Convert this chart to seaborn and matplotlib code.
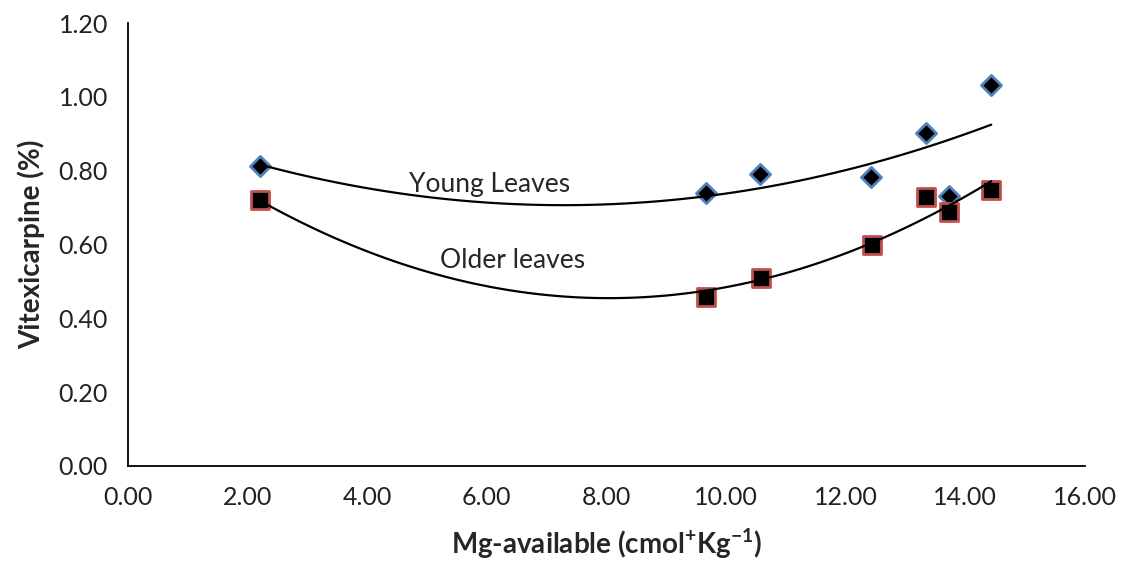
import numpy as np
import pandas as pd
import seaborn as sns
import matplotlib
matplotlib.use("Agg")
from matplotlib import pyplot as plt

# values
mg_young = [2.20, 9.67, 10.57, 12.43, 13.34, 13.73, 14.44]
vit_young = [0.813, 0.739, 0.791, 0.782, 0.903, 0.732, 1.032]
mg_older = [2.20, 9.67, 10.58, 12.45, 13.34, 13.73, 14.44]
vit_older = [0.721, 0.459, 0.509, 0.599, 0.728, 0.689, 0.748]

sns.set_style("white")
plt.rcParams['font.family'] = ['Lato', 'DejaVu Sans']
plt.rcParams['mathtext.fontset'] = 'custom'
plt.rcParams['mathtext.rm'] = 'Lato'
plt.rcParams['mathtext.bf'] = 'Lato:bold'

young = pd.DataFrame({"mg": mg_young, "vit": vit_young})
older = pd.DataFrame({"mg": mg_older, "vit": vit_older})

fig = plt.figure(figsize=(11.25, 5.66), dpi=100)
ax = fig.add_axes([0.114, 0.177, 0.850, 0.782])

# second-order polynomial trendlines, like the spreadsheet original
sns.regplot(x="mg", y="vit", data=young, order=2, ci=None, truncate=True,
            marker="D", ax=ax,
            scatter_kws={"s": 105, "color": "black", "edgecolors": "#4F81BD",
                         "linewidths": 2, "alpha": 1},
            line_kws={"color": "black", "lw": 1.6})
sns.regplot(x="mg", y="vit", data=older, order=2, ci=None, truncate=True,
            marker="s", ax=ax,
            scatter_kws={"s": 180, "color": "black", "edgecolors": "#C0504D",
                         "linewidths": 2, "alpha": 1},
            line_kws={"color": "black", "lw": 1.6})

ax.text(6.04, 0.762, "Young Leaves", fontsize=19, ha="center", va="center")
ax.text(6.43, 0.558, "Older leaves", fontsize=19, ha="center", va="center")

ax.set_xlim(0, 16)
ax.set_ylim(0, 1.2)
ax.set_xticks(np.arange(0, 16.1, 2))
ax.set_yticks(np.arange(0, 1.21, 0.2))
ax.xaxis.set_major_formatter(matplotlib.ticker.FormatStrFormatter('%.2f'))
ax.yaxis.set_major_formatter(matplotlib.ticker.FormatStrFormatter('%.2f'))
ax.tick_params(axis='both', direction='inout', length=13, width=1.3,
               labelsize=18, color='black', labelcolor='#222222', pad=8)

sns.despine(ax=ax)
for side in ['left', 'bottom']:
    ax.spines[side].set_color('black')
    ax.spines[side].set_linewidth(1.3)

ax.set_xlabel(r'Mg-available (cmol$^{\mathbf{+}}$Kg$^{\mathbf{-1}}$)',
              fontsize=20, fontweight='bold', labelpad=12)
ax.set_ylabel('Vitexicarpine (%)', fontsize=20, fontweight='bold', labelpad=10)

fig.savefig("out.png", dpi=100)
